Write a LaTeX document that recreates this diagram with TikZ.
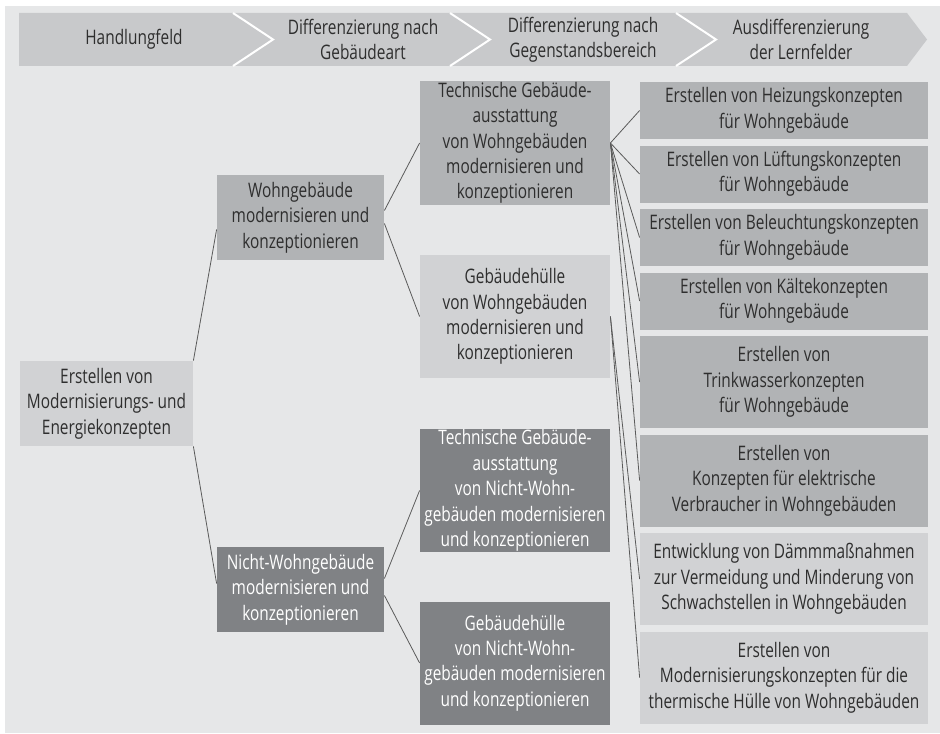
\documentclass[tikz,border=0pt]{standalone}
\usepackage{fontspec}
\setmainfont{Open Sans}[FakeStretch=0.77]
\usetikzlibrary{calc}
\definecolor{bggray}{HTML}{E6E7E8}
\definecolor{headgray}{HTML}{C8C9CB}
\definecolor{lightbox}{HTML}{D1D2D4}
\definecolor{midbox}{HTML}{B1B3B5}
\definecolor{darkbox}{HTML}{808285}
\definecolor{txtgray}{HTML}{2E2E2E}
\definecolor{linegray}{HTML}{5A5A5A}
\tikzset{
  box/.style={inner sep=0pt,align=center,text=txtgray,font=\fontsize{10}{12.7}\selectfont},
  hell/.style={box,fill=lightbox},
  mittel/.style={box,fill=midbox},
  dunkel/.style={box,fill=darkbox,text=white},
  stufeA/.style={minimum width=86.5pt,minimum height=42.5pt},
  stufeB/.style={minimum width=83.5pt,minimum height=42.5pt},
  stufeC/.style={minimum width=95pt,minimum height=61.5pt},
  feldzwei/.style={minimum width=144pt,minimum height=28.5pt},
  felddrei/.style={minimum width=144pt,minimum height=46pt},
  verb/.style={draw=linegray,line width=.4pt}
}

\begin{document}
\begin{tikzpicture}[x=.5pt,y=-.5pt]
\useasboundingbox(0,0)rectangle(940,733);
\fill[bggray](5,6)rectangle(940,733); %background
%header arrows
\fill[headgray](19,13)--(233,13)--(273,39.5)--(233,66)--(19,66)--cycle;
\fill[headgray](233,13)--(450,13)--(490,39.5)--(450,66)--(233,66)--(273,39.5)--cycle;
\fill[headgray](450,13)--(676,13)--(716,39.5)--(676,66)--(450,66)--(490,39.5)--cycle;
\fill[headgray](676,13)--(907,13)--(927,39.5)--(907,66)--(676,66)--(716,39.5)--cycle;
\draw[white,line width=1pt](233,13)--(273,39.5)--(233,66);
\draw[white,line width=1pt](450,13)--(490,39.5)--(450,66);
\draw[white,line width=1pt](676,13)--(716,39.5)--(676,66);
\node[box] (kopf1) at (134,39.5){Handlungfeld};
\node[box] (kopf2) at (363,39.5){Differenzierung nach\\Gebäudeart};
\node[box] (kopf3) at (583,39.5){Differenzierung nach\\Gegenstandsbereich};
\node[box] (kopf4) at (801,39.5){Ausdifferenzierung\\der Lernfelder};
%handlungsfeld
\node[hell,stufeA] (root) at (106.5,403.5){Erstellen von\\Modernisierungs- und\\Energiekonzepten};
%gebaeudeart
\node[mittel,stufeB] (wohn) at (300.5,217.5){Wohngebäude\\modernisieren und\\konzeptionieren};
\node[dunkel,stufeB] (nwohn) at (300.5,589.5){Nicht-Wohngebäude\\modernisieren und\\konzeptionieren};
%gegenstandsbereich
\node[mittel,stufeC] (techW) at (515,143){Technische Gebäude-\\ausstattung\\von Wohngebäuden\\modernisieren und\\konzeptionieren};
\node[hell,stufeC] (huelleW) at (515,316.5){Gebäudehülle\\von Wohngebäuden\\modernisieren und\\konzeptionieren};
\node[dunkel,stufeC] (techNW) at (515,490.5){Technische Gebäude-\\ausstattung\\von Nicht-Wohn-\\gebäuden modernisieren\\und konzeptionieren};
\node[dunkel,stufeC] (huelleNW) at (515,663){Gebäudehülle\\von Nicht-Wohn-\\gebäuden modernisieren\\und konzeptionieren};
%lernfelder
\node[mittel,feldzwei] (r1) at (784,110.5){Erstellen von Heizungskonzepten\\für Wohngebäude};
\node[mittel,feldzwei] (r2) at (784,174){Erstellen von Lüftungskonzepten\\für Wohngebäude};
\node[mittel,feldzwei] (r3) at (784,237.5){Erstellen von Beleuchtungskonzepten\\für Wohngebäude};
\node[mittel,feldzwei] (r4) at (784,301){Erstellen von Kältekonzepten\\für Wohngebäude};
\node[mittel,felddrei] (r5) at (784,382){Erstellen von\\Trinkwasserkonzepten\\für Wohngebäude};
\node[mittel,felddrei] (r6) at (784,480.5){Erstellen von\\Konzepten für elektrische\\Verbraucher in Wohngebäuden};
\node[hell,felddrei] (r7) at (784,579){Entwicklung von Dämmmaßnahmen\\zur Vermeidung und Minderung von\\Schwachstellen in Wohngebäuden};
\node[hell,felddrei] (r8) at (784,677.5){Erstellen von\\Modernisierungskonzepten für die\\thermische Hülle von Wohngebäuden};
%lines
\draw[verb](root.north east)--($(wohn.west)+(0,12)$);
\draw[verb](root.south east)--($(nwohn.west)+(0,-6)$);
\draw[verb]($(wohn.east)+(0,-7)$)--(techW.west);
\draw[verb]($(wohn.east)+(0,6)$)--(huelleW.west);
\draw[verb]($(nwohn.east)+(0,-11)$)--(techNW.west);
\draw[verb]($(nwohn.east)+(0,6)$)--(huelleNW.west);
\foreach \z in {r1,r2,r3,r4,r5,r6}
\draw[verb](techW.east)--(\z.west);
\foreach \z in {r7,r8}
\draw[verb](huelleW.east)--(\z.west);
\end{tikzpicture}
\end{document}
